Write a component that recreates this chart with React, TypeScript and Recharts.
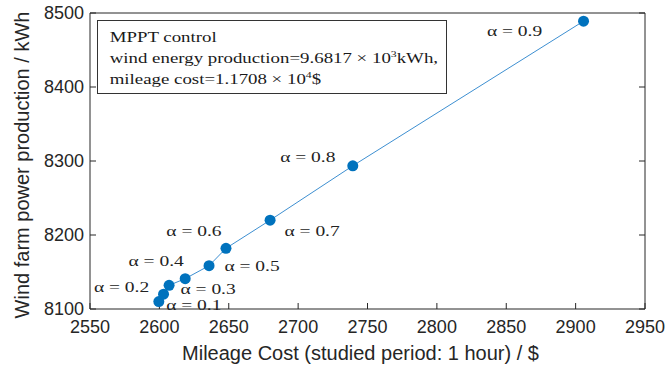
import React from 'react';
import { ComposedChart, Line, XAxis, YAxis, LabelList } from 'recharts';

const alphas = ['0.1', '0.2', '0.3', '0.4', '0.5', '0.6', '0.7', '0.8', '0.9'];
const mileageCost = [2599.6, 2603, 2607, 2618.6, 2635.8, 2648, 2679.8, 2739.4, 2905.7];
const windProduction = [8110, 8120, 8132, 8141, 8158.5, 8182, 8220, 8293.5, 8489];
const xTicks = [2550, 2600, 2650, 2700, 2750, 2800, 2850, 2900, 2950];
const yTicks = [8100, 8200, 8300, 8400, 8500];

// where each α label sits relative to its marker
const labelOffsets = [
  [35, 5], [-42, -6], [39, 5], [-29, -16], [43, 2], [-32, -16], [42, 12], [-45, -7], [-69, 11],
];

const data = alphas.map((a, i) => ({ alpha: a, cost: mileageCost[i], wind: windProduction[i] }));

const AXIS = '#262626';
const SANS = 'Liberation Sans, Arial, sans-serif';
const SERIF = 'Liberation Serif, Times New Roman, serif';

const emptyTick = () => <g />;

const supStyle: React.CSSProperties = { fontSize: 9, position: 'relative', top: -6 };
const lineStyle: React.CSSProperties = { height: 21, lineHeight: '21px' };

export default function App() {
  return (
    <div style={{ position: 'absolute', left: 0, top: 0, width: 669, height: 368, background: '#fff' }}>
      <ComposedChart width={669} height={368} data={data} margin={{ top: 0, right: 0, bottom: 0, left: 0 }}>
        <XAxis
          dataKey="cost"
          type="number"
          domain={[2550, 2950]}
          ticks={xTicks}
          allowDataOverflow
          height={59}
          stroke={AXIS}
          tickSize={-6}
          tickMargin={17}
          tick={{ fill: AXIS, fontSize: 18, fontFamily: SANS }}
          label={{
            value: 'Mileage Cost (studied period: 1 hour) / $',
            position: 'insideBottom',
            offset: 8,
            dx: -7,
            fill: AXIS,
            fontSize: 20,
            fontFamily: SANS,
          }}
        />
        <XAxis
          xAxisId="top"
          orientation="top"
          type="number"
          domain={[2550, 2950]}
          ticks={xTicks}
          allowDataOverflow
          height={13}
          stroke={AXIS}
          tickSize={-6}
          tick={emptyTick}
        />
        <YAxis
          dataKey="wind"
          type="number"
          domain={[8100, 8500]}
          ticks={yTicks}
          allowDataOverflow
          width={90}
          stroke={AXIS}
          tickSize={-6}
          tickMargin={12}
          tick={{ fill: AXIS, fontSize: 18, fontFamily: SANS }}
          label={{
            content: (p: any) => {
              const vb = p.viewBox;
              const cx = vb.x + 24;
              const cy = vb.y + vb.height / 2 + 4;
              return (
                <text
                  x={cx}
                  y={cy}
                  transform={`rotate(-90 ${cx} ${cy})`}
                  textAnchor="middle"
                  dominantBaseline="middle"
                  fill={AXIS}
                  fontSize={20}
                  fontFamily={SANS}
                >
                  Wind farm power production / kWh
                </text>
              );
            },
          }}
        />
        <YAxis
          yAxisId="right"
          orientation="right"
          type="number"
          domain={[8100, 8500]}
          ticks={yTicks}
          allowDataOverflow
          width={24}
          stroke={AXIS}
          tickSize={-6}
          tick={emptyTick}
        />
        <Line
          dataKey="wind"
          stroke="#3d8fd1"
          strokeWidth={1}
          dot={{ r: 5.5, fill: '#0072BD', stroke: '#0072BD', strokeWidth: 0 }}
          isAnimationActive={false}
        >
          <LabelList
            dataKey="alpha"
            content={(p: any) => {
              const [dx, dy] = labelOffsets[p.index] || [0, 0];
              return (
                <text
                  transform={`translate(${p.x + dx} ${p.y + dy}) scale(1.3 1)`}
                  textAnchor="middle"
                  dominantBaseline="middle"
                  fill="#222"
                  fontSize={15}
                  fontFamily={SERIF}
                >
                  {`α = ${p.value}`}
                </text>
              );
            }}
          />
        </Line>
      </ComposedChart>
      <div
        style={{
          position: 'absolute',
          left: 97,
          top: 20,
          width: 350,
          height: 74,
          border: '1.5px solid #333',
          background: '#fff',
          boxSizing: 'border-box',
          overflow: 'hidden',
        }}
      >
        <div
          style={{
            fontFamily: SERIF,
            fontSize: 14.5,
            color: '#1a1a1a',
            padding: '6px 0 0 9px',
            whiteSpace: 'nowrap',
            transform: 'scaleX(1.3)',
            transformOrigin: 'left top',
          }}
        >
          <div style={lineStyle}>MPPT control</div>
          <div style={lineStyle}>
            wind energy production=9.6817 × 10<span style={supStyle}>3</span>kWh,
          </div>
          <div style={lineStyle}>
            mileage cost=1.1708 × 10<span style={supStyle}>4</span>$
          </div>
        </div>
      </div>
    </div>
  );
}
